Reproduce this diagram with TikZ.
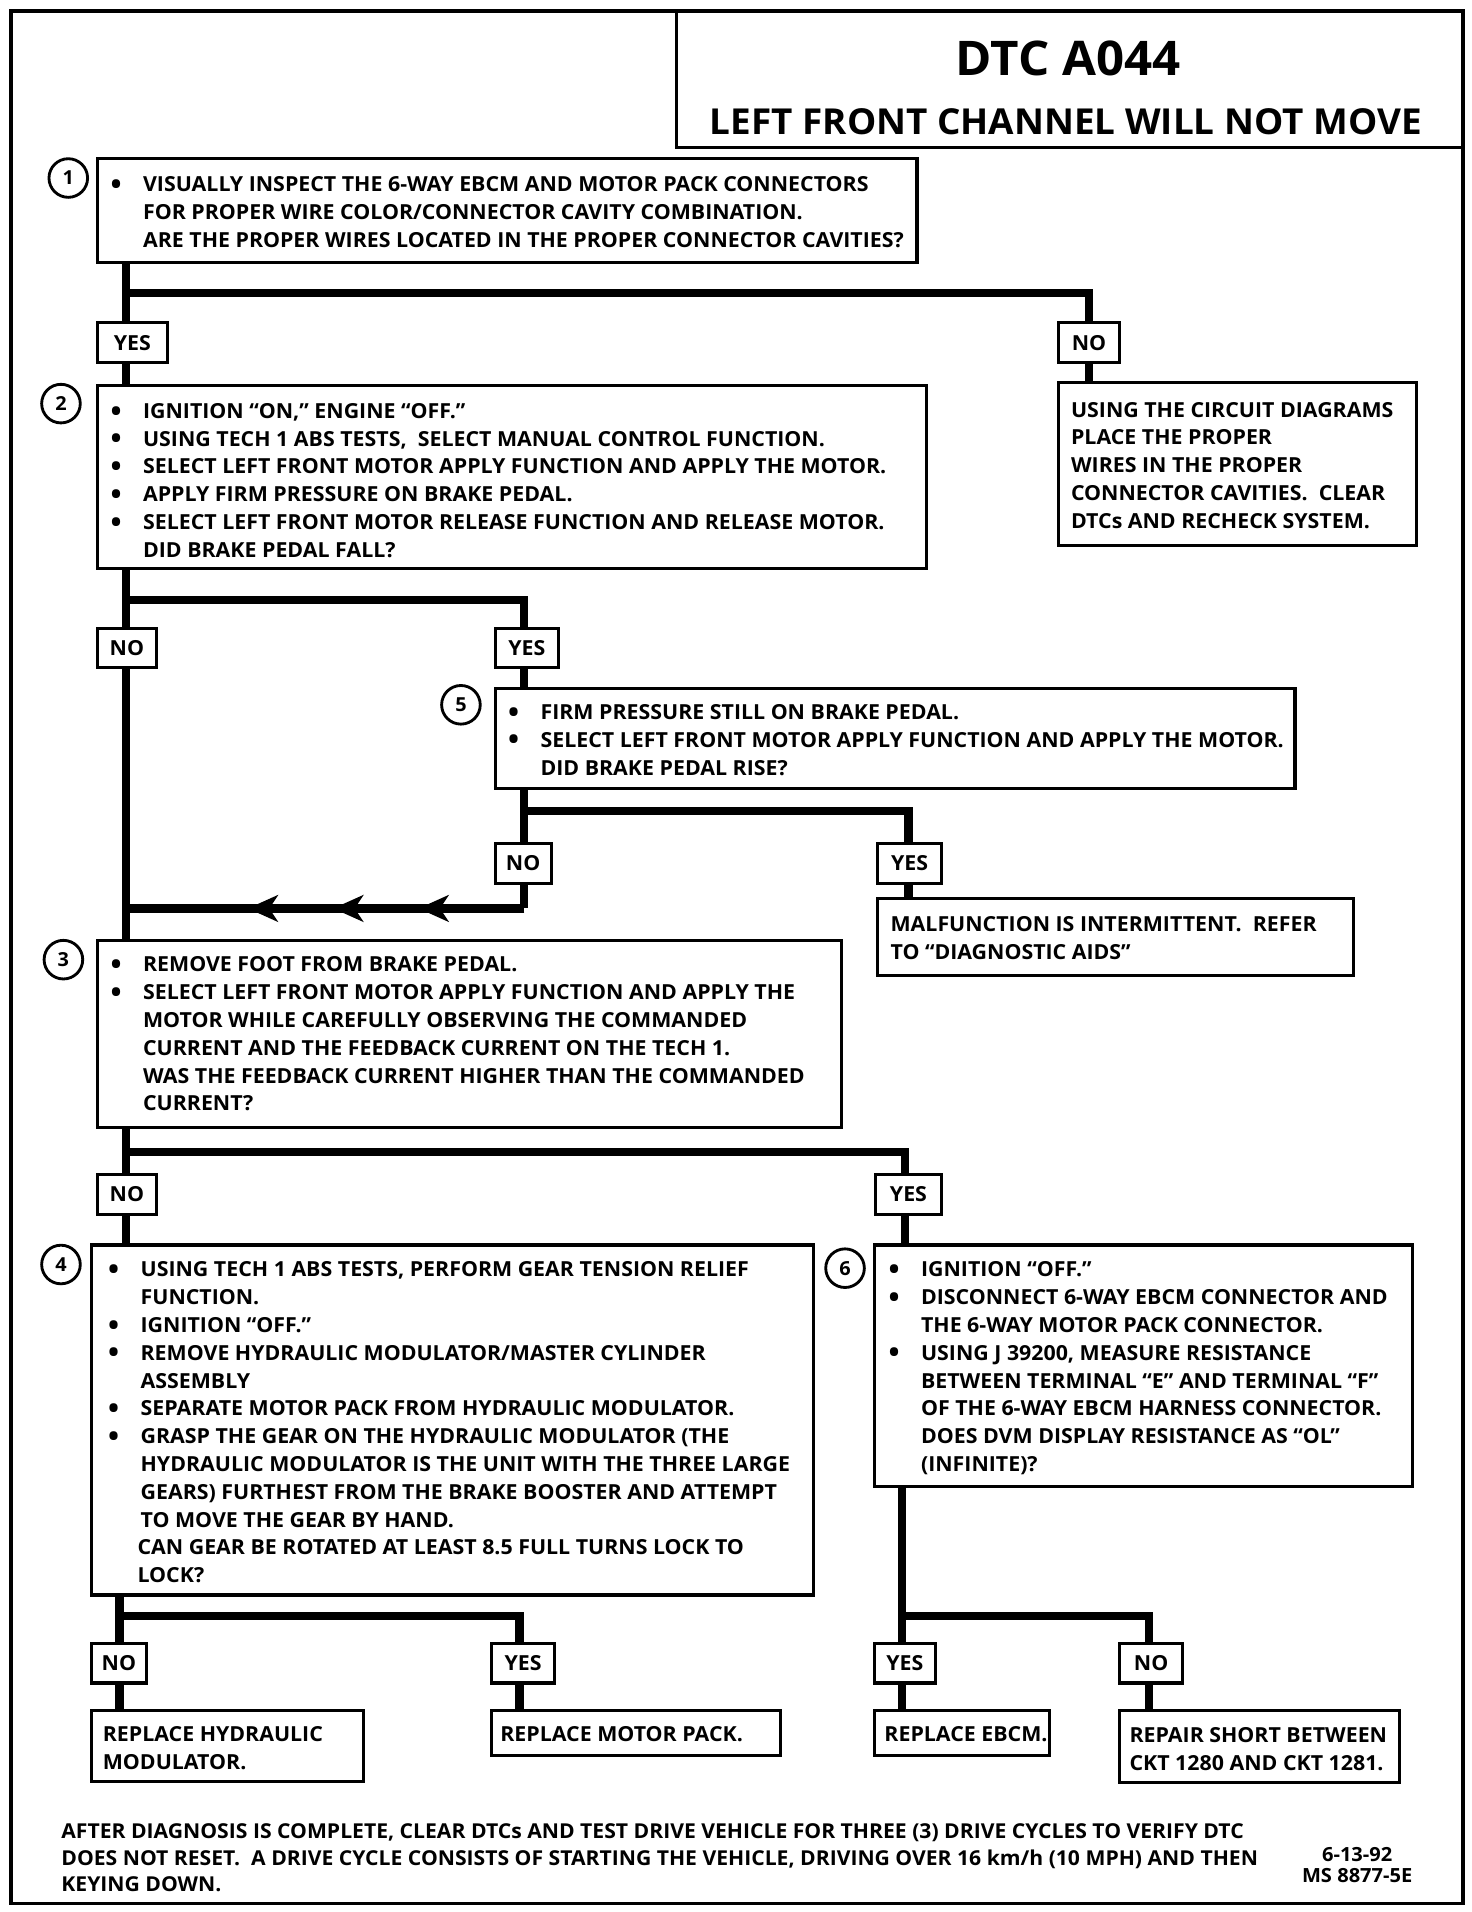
\documentclass[tikz,border=0pt]{standalone}
\usepackage{fontspec}
\setmainfont{Open Sans}[FakeStretch=1.03]
\usetikzlibrary{arrows.meta,decorations.markings,fit}
\newcommand{\bodyf}{\bfseries\fontsize{10.2}{13.68}\selectfont}
\newcommand{\bul}{\llap{\makebox[16pt][l]{\raisebox{-1.3pt}{\fontsize{14}{14}\selectfont\textbullet}}}}
\tikzset{
  frame/.style={draw, line width=1.8pt, inner sep=0pt},
  box/.style={draw, line width=1.5pt, inner sep=0pt},
  lab/.style={draw, line width=1.5pt, inner sep=0pt, minimum height=19.4pt, font=\bodyf},
  wire/.style={line width=4pt, line join=miter},
  circ/.style={circle, draw, line width=1.4pt, minimum size=19pt, inner sep=0pt, font=\bfseries\fontsize{9.5}{10}\selectfont},
  txt/.style={anchor=north west, inner sep=0pt, align=left, font=\bodyf},
  rettip/.tip={Stealth[length=15pt,width=13.5pt,inset=4.5pt,line width=0pt]},
  retarrows/.style={decoration={markings,
      mark=at position 52pt with {\arrow{rettip}},
      mark=at position 94pt with {\arrow{rettip}},
      mark=at position 136pt with {\arrow{rettip}}},
    postaction=decorate}
}
\begin{document}
\begin{tikzpicture}[x=0.6pt,y=-0.6pt]
\useasboundingbox (0,0) rectangle (1207,1568);
\fill[white] (0,0) rectangle (1207,1568);

% frame and title
\node[frame, fit={(9,9)(1200,1561)}] (outer) {};
\node[box, fit={(555,9)(1200,121)}] (title) {};
\node[font=\bfseries\fontsize{23.5}{26}\selectfont] (t1) at (876,48) {DTC A044};
\node[font=\bfseries\fontsize{17.6}{20}\selectfont] (t2) at (874,100) {LEFT FRONT CHANNEL WILL NOT MOVE};

% boxes
\node[box, fit={(80,130)(752,215)}] (b1) {};
\node[box, fit={(80,316)(760,466)}] (b2) {};
\node[box, fit={(868,314)(1162,447)}] (r0) {};
\node[box, fit={(406,565)(1062,647)}] (b5) {};
\node[box, fit={(720,737)(1110,800)}] (mal) {};
\node[box, fit={(80,771)(690,925)}] (b3) {};
\node[box, fit={(75,1021)(667,1308)}] (b4) {};
\node[box, fit={(717,1021)(1158,1219)}] (b6) {};
\node[box, fit={(75,1403)(298,1461)}] (r1) {};
\node[box, fit={(403,1403)(640,1440)}] (r2) {};
\node[box, fit={(717,1403)(861,1440)}] (r3) {};
\node[box, fit={(918,1403)(1148,1462)}] (r4) {};

% step numbers
\node[circ] (c1) at (56,146) {1};
\node[circ] (c2) at (50,331) {2};
\node[circ] (c5) at (378,578) {5};
\node[circ] (c3) at (52,787) {3};
\node[circ] (c4) at (50,1037) {4};
\node[circ] (c6) at (693,1040) {6};

% labels
\node[lab, minimum width=34.2pt] (y1) at (108.5,281) {YES};
\node[lab, minimum width=30pt] (n1) at (893,281) {NO};
\node[lab, minimum width=28.8pt] (n2) at (104,531.5) {NO};
\node[lab, minimum width=31.2pt] (y2) at (432,531.5) {YES};
\node[lab, minimum width=27.6pt] (n5) at (429,708) {NO};
\node[lab, minimum width=31.2pt] (y5) at (746,708) {YES};
\node[lab, minimum width=28.8pt] (n3) at (104,979.5) {NO};
\node[lab, minimum width=32.4pt] (y3) at (745,979.5) {YES};
\node[lab, minimum width=27pt] (n4) at (97.5,1364) {NO};
\node[lab, minimum width=31.2pt] (y4) at (429,1364) {YES};
\node[lab, minimum width=30pt] (y6) at (742,1364) {YES};
\node[lab, minimum width=31.2pt] (n6) at (944,1364) {NO};

% junctions
\coordinate (j1) at (103,240); \coordinate (j1r) at (893,240);
\coordinate (j2) at (103,492); \coordinate (j2r) at (430,492);
\coordinate (j5) at (430,665); \coordinate (j5r) at (745,665);
\coordinate (jr) at (430,745); \coordinate (jrl) at (103,745);
\coordinate (j3) at (103,945); \coordinate (j3r) at (742,945);
\coordinate (j4) at (98,1325); \coordinate (j4r) at (426,1325);
\coordinate (j6) at (740,1325); \coordinate (j6r) at (942,1325);

% connectors
\draw[wire] (b1.south -| j1) -- (j1) -- (j1r) -- (n1.north -| j1r);
\draw[wire] (j1) -- (y1.north -| j1);
\draw[wire] (y1.south -| j1) -- (b2.north -| j1);
\draw[wire] (n1.south -| j1r) -- (r0.north -| j1r);

\draw[wire] (b2.south -| j2) -- (j2) -- (j2r) -- (y2.north -| j2r);
\draw[wire] (j2) -- (n2.north -| j2);
\draw[wire] (n2.south -| j2) -- (b3.north -| j2);
\draw[wire] (y2.south -| j2r) -- (b5.north -| j2r);

\draw[wire] (b5.south -| j5) -- (j5) -- (j5r) -- (y5.north -| j5r);
\draw[wire] (j5) -- (n5.north -| j5);
\draw[wire] (y5.south -| j5r) -- (mal.north -| j5r);
\draw[wire] (n5.south -| jr) -- (jr);
\draw[wire, retarrows] (jr) -- (jrl);

\draw[wire] (b3.south -| j3) -- (j3) -- (j3r) -- (y3.north -| j3r);
\draw[wire] (j3) -- (n3.north -| j3);
\draw[wire] (n3.south -| j3) -- (b4.north -| j3);
\draw[wire] (y3.south -| j3r) -- (b6.north -| j3r);

\draw[wire] (b4.south -| j4) -- (j4) -- (j4r) -- (y4.north -| j4r);
\draw[wire] (j4) -- (n4.north -| j4);
\draw[wire] (n4.south -| j4) -- (r1.north -| j4);
\draw[wire] (y4.south -| j4r) -- (r2.north -| j4r);

\draw[wire] (b6.south -| j6) -- (j6) -- (j6r) -- (n6.north -| j6r);
\draw[wire] (j6) -- (y6.north -| j6);
\draw[wire] (y6.south -| j6) -- (r3.north -| j6);
\draw[wire] (n6.south -| j6r) -- (r4.north -| j6r);

% texts
\node[txt] (b1t) at (117,140.8) {\strut\bul VISUALLY INSPECT THE 6-WAY EBCM AND MOTOR PACK CONNECTORS\\
FOR PROPER WIRE COLOR/CONNECTOR CAVITY COMBINATION.\\
ARE THE PROPER WIRES LOCATED IN THE PROPER CONNECTOR CAVITIES?};

\node[txt] (b2t) at (117,326.8) {\strut\bul IGNITION “ON,” ENGINE “OFF.”\\
\bul USING TECH 1 ABS TESTS,\ \ SELECT MANUAL CONTROL FUNCTION.\\
\bul SELECT LEFT FRONT MOTOR APPLY FUNCTION AND APPLY THE MOTOR.\\
\bul APPLY FIRM PRESSURE ON BRAKE PEDAL.\\
\bul SELECT LEFT FRONT MOTOR RELEASE FUNCTION AND RELEASE MOTOR.\\
DID BRAKE PEDAL FALL?};

\node[txt] (r0t) at (878,325.8) {\strut USING THE CIRCUIT DIAGRAMS\\
PLACE THE PROPER\\
WIRES IN THE PROPER\\
CONNECTOR CAVITIES.\ \ CLEAR\\
DTCs AND RECHECK SYSTEM.};

\node[txt] (b5t) at (443,573.8) {\strut\bul FIRM PRESSURE STILL ON BRAKE PEDAL.\\
\bul SELECT LEFT FRONT MOTOR APPLY FUNCTION AND APPLY THE MOTOR.\\
DID BRAKE PEDAL RISE?};

\node[txt] (malt) at (730,747.8) {\strut MALFUNCTION IS INTERMITTENT.\ \ REFER\\
TO “DIAGNOSTIC AIDS”};

\node[txt] (b3t) at (117,780.8) {\strut\bul REMOVE FOOT FROM BRAKE PEDAL.\\
\bul SELECT LEFT FRONT MOTOR APPLY FUNCTION AND APPLY THE\\
MOTOR WHILE CAREFULLY OBSERVING THE COMMANDED\\
CURRENT AND THE FEEDBACK CURRENT ON THE TECH 1.\\
WAS THE FEEDBACK CURRENT HIGHER THAN THE COMMANDED\\
CURRENT?};

\node[txt] (b4t) at (115,1030.8) {\strut\bul USING TECH 1 ABS TESTS, PERFORM GEAR TENSION RELIEF\\
FUNCTION.\\
\bul IGNITION “OFF.”\\
\bul REMOVE HYDRAULIC MODULATOR/MASTER CYLINDER\\
ASSEMBLY\\
\bul SEPARATE MOTOR PACK FROM HYDRAULIC MODULATOR.\\
\bul GRASP THE GEAR ON THE HYDRAULIC MODULATOR (THE\\
HYDRAULIC MODULATOR IS THE UNIT WITH THE THREE LARGE\\
GEARS) FURTHEST FROM THE BRAKE BOOSTER AND ATTEMPT\\
TO MOVE THE GEAR BY HAND.\\
\kern-1.5pt CAN GEAR BE ROTATED AT LEAST 8.5 FULL TURNS LOCK TO\\
\kern-1.5pt LOCK?};

\node[txt] (b6t) at (755,1030.8) {\strut\bul IGNITION “OFF.”\\
\bul DISCONNECT 6-WAY EBCM CONNECTOR AND\\
THE 6-WAY MOTOR PACK CONNECTOR.\\
\bul USING J 39200, MEASURE RESISTANCE\\
BETWEEN TERMINAL “E” AND TERMINAL “F”\\
OF THE 6-WAY EBCM HARNESS CONNECTOR.\\
DOES DVM DISPLAY RESISTANCE AS “OL”\\
(INFINITE)?};

\node[txt] (r1t) at (84,1411.8) {\strut REPLACE HYDRAULIC\\ MODULATOR.};
\node[txt] (r2t) at (410,1411.8) {\strut REPLACE MOTOR PACK.};
\node[txt] (r3t) at (725,1411.8) {\strut REPLACE EBCM.};
\node[txt] (r4t) at (926,1412.8) {\strut REPAIR SHORT BETWEEN\\ CKT 1280 AND CKT 1281.};

\node[txt, font=\bfseries\fontsize{10.1}{13.2}\selectfont] (foot) at (50,1491.8) {\strut AFTER DIAGNOSIS IS COMPLETE, CLEAR DTCs AND TEST DRIVE VEHICLE FOR THREE (3) DRIVE CYCLES TO VERIFY DTC\\
DOES NOT RESET.\ \ A DRIVE CYCLE CONSISTS OF STARTING THE VEHICLE, DRIVING OVER 16 km/h (10 MPH) AND THEN\\
KEYING DOWN.};
\node[align=center, inner sep=0pt, font=\bfseries\fontsize{9.6}{10.2}\selectfont] (date) at (1113,1529.5) {6-13-92\\ MS 8877-5E};
\end{tikzpicture}
\end{document}
